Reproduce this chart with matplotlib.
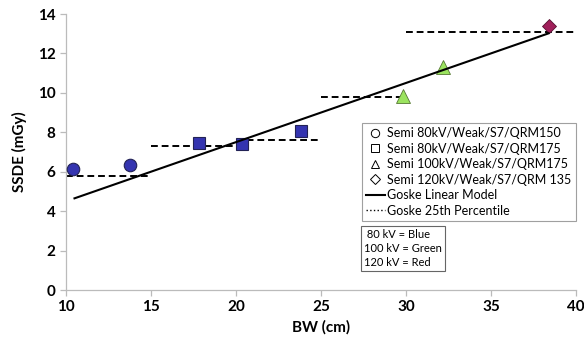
import matplotlib
matplotlib.use("Agg")
import matplotlib.pyplot as plt
from matplotlib.lines import Line2D

plt.rcParams['font.family'] = ['Lato', 'DejaVu Sans']

# measured points
bw_80_150 = [10.43, 13.76]
ssde_80_150 = [6.14, 6.36]
bw_80_175 = [17.84, 20.33, 23.82]
ssde_80_175 = [7.47, 7.39, 8.07]
bw_100_175 = [29.84, 32.2]
ssde_100_175 = [9.85, 11.33]
bw_120_135 = [38.41]
ssde_120_135 = [13.39]

# Goske linear model (endpoints)
lin_bw = [10.5, 38.4]
lin_ssde = [4.65, 13.02]

# Goske 25th percentile by BW bin
p25_start = [10, 15, 20, 25, 30]
p25_end = [15, 20, 25, 30, 40]
p25_val = [5.8, 7.32, 7.62, 9.81, 13.1]

blue = '#3434b0'
green = '#9be35f'
red = '#a01f5a'

fig = plt.figure(figsize=(5.84, 3.45), dpi=100)
ax = fig.add_axes([0.113, 0.1594, 0.873, 0.80])

for x0, x1, v in zip(p25_start, p25_end, p25_val):
    ax.plot([x0, x1], [v, v], color='black', ls=(0, (3.5, 2)), lw=1.4, zorder=2)

ax.plot(bw_80_150, ssde_80_150, 'o', ms=9, mfc=blue, mec='#222255', mew=0.8, zorder=3)
ax.plot(bw_80_175, ssde_80_175, 's', ms=8.5, mfc=blue, mec='#222255', mew=0.8, zorder=3)
ax.plot(bw_100_175, ssde_100_175, '^', ms=9.5, mfc=green, mec='#557733', mew=0.6, zorder=3)
ax.plot(bw_120_135, ssde_120_135, 'D', ms=7.5, mfc=red, mec='#551030', mew=0.6, zorder=3)

ax.plot(lin_bw, lin_ssde, color='black', lw=1.5, zorder=4)

ax.set_xlim(10, 40)
ax.set_ylim(0, 14)
ax.set_xticks(range(10, 41, 5))
ax.set_yticks(range(0, 15, 2))
for s in ['top', 'right']:
    ax.spines[s].set_visible(False)
for s in ['left', 'bottom']:
    ax.spines[s].set_color('#bbbbbb')
    ax.spines[s].set_linewidth(0.9)
ax.tick_params(colors='#bbbbbb', labelcolor='black', length=4, width=0.9, labelsize=11)
for lab in ax.get_xticklabels() + ax.get_yticklabels():
    lab.set_fontweight('bold')
ax.set_xlabel('BW (cm)', fontsize=11, fontweight='bold', labelpad=4)
ax.set_ylabel('SSDE (mGy)', fontsize=11, fontweight='bold', labelpad=8)

handles = [
    Line2D([], [], ls='none', marker='o', ms=6, mfc='white', mec='black', mew=0.7),
    Line2D([], [], ls='none', marker='s', ms=6, mfc='white', mec='black', mew=0.7),
    Line2D([], [], ls='none', marker='^', ms=6, mfc='white', mec='black', mew=0.7),
    Line2D([], [], ls='none', marker='D', ms=5, mfc='white', mec='black', mew=0.7),
    Line2D([], [], color='black', lw=1.5),
    Line2D([], [], color='black', lw=1.0, ls=':'),
]
labels = ['Semi 80kV/Weak/S7/QRM150', 'Semi 80kV/Weak/S7/QRM175',
          'Semi 100kV/Weak/S7/QRM175', 'Semi 120kV/Weak/S7/QRM 135',
          'Goske Linear Model', 'Goske 25th Percentile']
leg = fig.legend(handles, labels, loc='upper left', bbox_to_anchor=(361.7 / 584, 1 - 122.7 / 345),
                 fontsize=9, frameon=True, fancybox=False, edgecolor='#888888',
                 handlelength=1.5, handletextpad=0.2, labelspacing=0.28, borderpad=0.35,
                 borderaxespad=0)
leg.get_frame().set_linewidth(0.8)

fig.text(364 / 584, 1 - 229 / 345, ' 80 kV = Blue\n100 kV = Green\n120 kV = Red',
         fontsize=8, va='top', ha='left', linespacing=1.35,
         bbox=dict(boxstyle='square,pad=0.25', fc='white', ec='#666666', lw=0.8))

fig.savefig('out.png', dpi=100)
